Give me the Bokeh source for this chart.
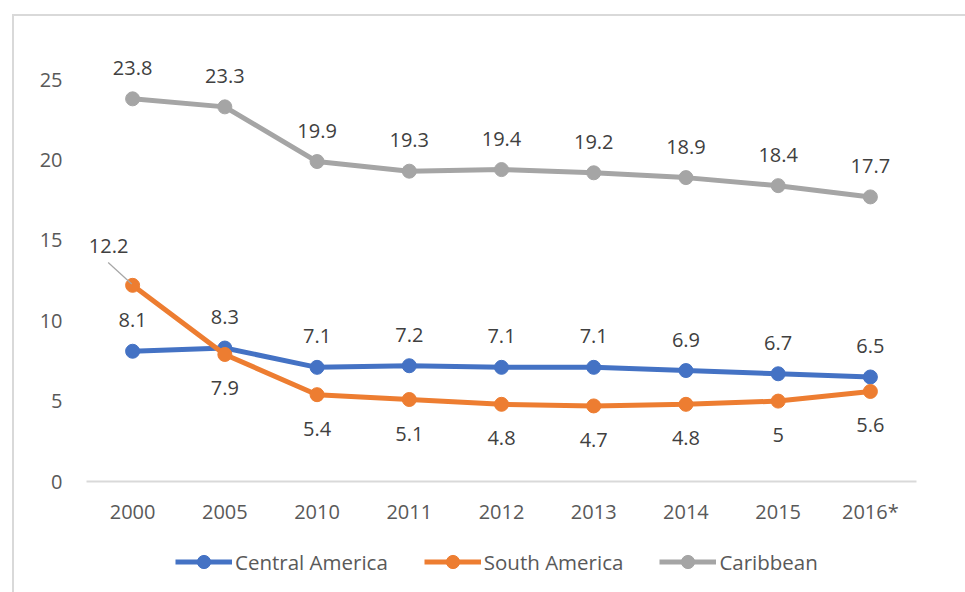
from bokeh.plotting import figure
from bokeh.layouts import column
from bokeh.models import (ColumnDataSource, Range1d, FactorRange, Legend, LegendItem, FixedTicker)
from bokeh.core.properties import value
from bokeh.embed import file_html
from bokeh.resources import INLINE

years = ["2000", "2005", "2010", "2011", "2012", "2013", "2014", "2015", "2016*"]
central = [8.1, 8.3, 7.1, 7.2, 7.1, 7.1, 6.9, 6.7, 6.5]
south = [12.2, 7.9, 5.4, 5.1, 4.8, 4.7, 4.8, 5, 5.6]
carib = [23.8, 23.3, 19.9, 19.3, 19.4, 19.2, 18.9, 18.4, 17.7]
y_ticks = [0, 5, 10, 15, 20, 25]

FONT = "Open Sans"
C_BLUE, C_ORANGE, C_GRAY = "#4472C4", "#ED7D31", "#A5A5A5"
series = [("Central America", central, C_BLUE), ("South America", south, C_ORANGE),
          ("Caribbean", carib, C_GRAY)]

p = figure(width=951, height=515, output_backend="svg", toolbar_location=None,
           x_range=FactorRange(*years, range_padding=0), y_range=Range1d(0, 28.05),
           min_border_left=72, min_border_right=49, min_border_top=14, min_border_bottom=50)
p.outline_line_color = None
p.grid.visible = False

# axes
p.yaxis.ticker = FixedTicker(ticks=y_ticks)
p.yaxis.axis_line_color = None
p.yaxis.major_label_standoff = 24
p.xaxis.axis_line_color = "#D9D9D9"
p.xaxis.axis_line_width = 2
p.xaxis.major_label_standoff = 16
for ax in (p.xaxis, p.yaxis):
    ax.major_tick_out = 0
    ax.major_tick_in = 0
    ax.major_tick_line_color = None
    ax.minor_tick_line_color = None
    ax.major_label_text_font = FONT
    ax.major_label_text_font_size = "20px"
    ax.major_label_text_color = "#595959"

for name, vals, col in series:
    src = ColumnDataSource(dict(x=years, y=vals))
    p.line("x", "y", source=src, line_color=col, line_width=5)
    p.scatter("x", "y", source=src, size=14, fill_color=col, line_color=col)

# leader line for the displaced 12.2 label
p.segment(x0=[(years[0], -0.265)], y0=[south[0] + 1.42], x1=[(years[0], -0.01)], y1=[south[0] + 0.08],
          line_color="#A6A6A6", line_width=1.2)

# data labels
def fmt(v):
    return f"{v:g}"

lx, ly, lt, dx, dy = [], [], [], [], []
for i, y in enumerate(years):
    lx.append(y); ly.append(central[i]); lt.append(fmt(central[i])); dx.append(0); dy.append(-31)
    lx.append(y); ly.append(carib[i]); lt.append(fmt(carib[i])); dx.append(0); dy.append(-31)
    lx.append(y); ly.append(south[i]); lt.append(fmt(south[i]))
    if i == 0:
        dx.append(-24); dy.append(-39)
    else:
        dx.append(0); dy.append(34)
lsrc = ColumnDataSource(dict(x=lx, y=ly, t=lt, dx=dx, dy=dy))
p.text("x", "y", text="t", x_offset="dx", y_offset="dy", source=lsrc,
       text_align="center", text_baseline="middle", text_font=value(FONT),
       text_font_size="20px", text_color="#404040")

# legend strip (its renderers hold no visible points; they only provide the legend swatches)
p2 = figure(width=951, height=61, output_backend="svg", toolbar_location=None,
            x_range=Range1d(0, 1), y_range=Range1d(0, 1),
            x_axis_location=None, y_axis_location=None,
            min_border_left=0, min_border_right=0, min_border_top=0, min_border_bottom=0)
p2.outline_line_color = None
p2.grid.visible = False
nan = float("nan")
items = []
for name, vals, col in series:
    r1 = p2.line(x=[nan], y=[nan], line_color=col, line_width=5)
    r2 = p2.scatter(x=[nan], y=[nan], size=14, fill_color=col, line_color=col)
    items.append(LegendItem(label=name, renderers=[r1, r2]))
legend = Legend(items=items, orientation="horizontal", location=(89, 14),
                label_text_font=FONT, label_text_font_size="20.5px", label_text_color="#595959",
                glyph_width=57, glyph_height=33, label_standoff=3, spacing=36,
                padding=0, margin=0, border_line_color=None, background_fill_alpha=0)
p2.add_layout(legend)

layout = column(p, p2, spacing=0,
                styles={"margin-left": "12px", "margin-top": "14px",
                        "border-left": "2px solid #D9D9D9", "border-top": "2px solid #D9D9D9"})

open("out.html", "w").write(file_html(layout, INLINE))
